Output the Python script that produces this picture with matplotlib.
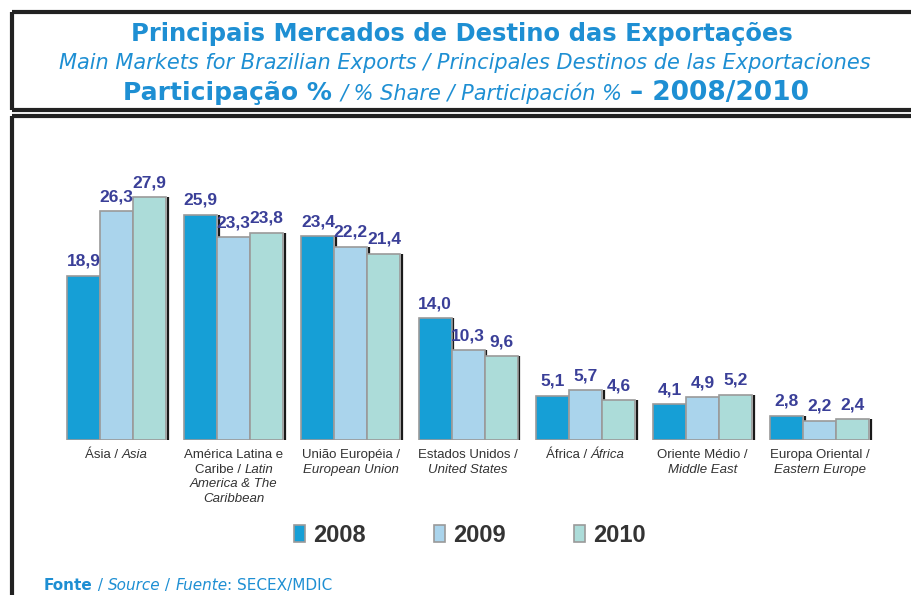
import matplotlib
matplotlib.use("Agg")
import matplotlib.pyplot as plt
from matplotlib.lines import Line2D
import numpy as np

# dados (participação %)
years = ["2008", "2009", "2010"]
share_2008 = [18.9, 25.9, 23.4, 14.0, 5.1, 4.1, 2.8]
share_2009 = [26.3, 23.3, 22.2, 10.3, 5.7, 4.9, 2.2]
share_2010 = [27.9, 23.8, 21.4, 9.6, 4.6, 5.2, 2.4]

# rótulos das categorias: linhas -> (texto, itálico?)
category_labels = [
    [[("Ásia / ", False), ("Asia", True)]],
    [[("América Latina e", False)],
     [("Caribe / ", False), ("Latin", True)],
     [("America & The", True)],
     [("Caribbean", True)]],
    [[("União Européia /", False)], [("European Union", True)]],
    [[("Estados Unidos /", False)], [("United States", True)]],
    [[("África / ", False), ("África", True)]],
    [[("Oriente Médio /", False)], [("Middle East", True)]],
    [[("Europa Oriental /", False)], [("Eastern Europe", True)]],
]

colors = ["#169fd6", "#aad4ec", "#acdcd9"]
title_blue = "#1e8fd3"
label_blue = "#3a3f98"

W, H = 912, 595


def fx(px):
    return px / W


def fy(py):
    return 1 - py / H


fig = plt.figure(figsize=(9.12, 5.95), dpi=100)
renderer = fig.canvas.get_renderer()


def mixed_line(x_px, y_px, parts, ha="center", **common):
    """desenha uma linha com trechos de estilos diferentes"""
    texts = []
    for s, kw in parts:
        t = fig.text(0, fy(y_px), s, ha="left", va="baseline", **common, **kw)
        texts.append(t)
    widths = [t.get_window_extent(renderer).width for t in texts]
    total = sum(widths)
    x0 = x_px - total / 2 if ha == "center" else x_px
    for t, w in zip(texts, widths):
        t.set_x(fx(x0))
        x0 += w
    return texts


# molduras
frame_kw = dict(color="#222222", lw=3, solid_capstyle="butt")
for xs, ys in [
    ([12, 12], [12, 110]),
    ([12, 920], [12, 12]),
    ([12, 920], [110, 110]),
    ([12, 12], [116, 600]),
    ([12, 920], [116, 116]),
]:
    fig.add_artist(Line2D([fx(x) for x in xs], [fy(y) for y in ys], **frame_kw))

# títulos
fig.text(fx(462), fy(41), "Principais Mercados de Destino das Exportações",
         ha="center", va="baseline", color=title_blue, fontsize=17.5, fontweight="bold",
         family="DejaVu Sans")
fig.text(fx(465), fy(69), "Main Markets for Brazilian Exports / Principales Destinos de las Exportaciones",
         ha="center", va="baseline", color=title_blue, fontsize=15, style="italic",
         family="DejaVu Sans")
mixed_line(466, 100, [
    ("Participação % ", dict(fontsize=18, fontweight="bold")),
    ("/ % Share / Participación % ", dict(fontsize=15, style="italic")),
    ("– 2008/2010", dict(fontsize=19, fontweight="bold")),
], color=title_blue, family="DejaVu Sans")

# barras
ax = fig.add_axes([fx(40), fy(440), fx(900) - fx(40), (440 - 150) / H])
x = np.arange(len(share_2008))
width = 0.282
series = [share_2008, share_2009, share_2010]
shadow = 1.8 / 117.2
for i, (vals, c, yr) in enumerate(zip(series, colors, years)):
    pos = x + (i - 1) * width
    ax.bar(pos, vals, width, color=c, edgecolor="#9a9a9a", linewidth=1.2, zorder=2, label=yr)
    ax.vlines(pos + width / 2 + shadow, 0, vals, color="#1a1a1a", lw=1.6, zorder=1)
    for p, v in zip(pos, vals):
        ax.annotate(f"{v:.1f}".replace(".", ","), (p, v), xytext=(0, 5),
                    textcoords="offset points", ha="center", va="bottom",
                    fontsize=12.5, fontweight="bold", color=label_blue,
                    family="Liberation Sans")
ax.set_xlim(-(116.5 - 40) / 117.2, (900 - 116.5) / 117.2)
ax.set_ylim(0, 290 / 8.7)
ax.axis("off")

# rótulos das categorias
for i, lines in enumerate(category_labels):
    cx = 116.5 + i * 117.2
    for j, line in enumerate(lines):
        parts = [(s, dict(style="italic" if it else "normal")) for s, it in line]
        mixed_line(cx, 458 + j * 14.7, parts, color="#333333", fontsize=9.5,
                   family="Liberation Sans")

# legenda
handles, labels = ax.get_legend_handles_labels()
fig.legend(handles, labels, loc="center", bbox_to_anchor=(fx(470), fy(535)), ncol=3,
           frameon=False, handlelength=0.45, handleheight=0.7, handletextpad=0.35,
           columnspacing=2.9, prop=dict(family="Liberation Sans", weight="bold", size=17),
           labelcolor="#333333")

# fonte
mixed_line(44, 590, [
    ("Fonte", dict(fontweight="bold")),
    (" / ", dict()),
    ("Source", dict(style="italic")),
    (" / ", dict()),
    ("Fuente", dict(style="italic")),
    (": SECEX/MDIC", dict()),
], ha="left", color=title_blue, fontsize=11, family="DejaVu Sans")

fig.savefig("out.png", dpi=100)
